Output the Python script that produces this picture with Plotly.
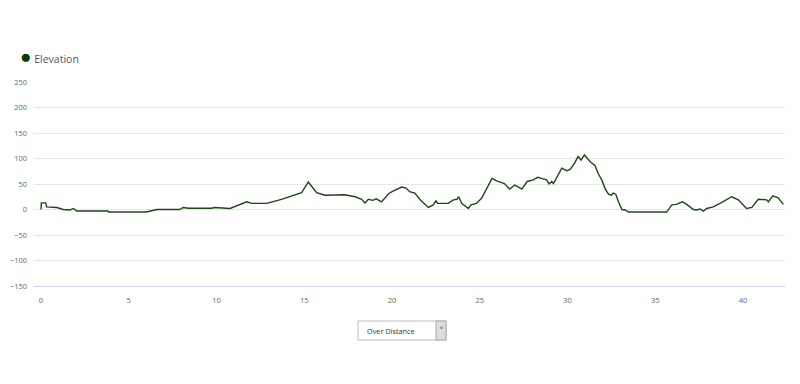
import plotly.graph_objects as go

# Distance along the course (km) and elevation (m)
distance_km = [0, 0.02, 0.27, 0.32, 0.9, 1.27, 1.65, 1.85, 2.03, 3.8, 3.85, 6.0, 6.6, 7.9, 8.1, 8.4,
               9.7, 9.9, 10.77, 11.72, 12.0, 12.86, 13.7, 14.47, 14.85, 15.23, 15.7, 16.18, 17.2,
               17.3, 17.9, 18.27, 18.46, 18.65, 18.9, 19.1, 19.4, 19.8, 20.0, 20.27, 20.55, 20.8,
               21.0, 21.3, 21.6, 22.07, 22.35, 22.5, 22.6, 23.2, 23.5, 23.7, 23.8, 23.97, 24.35,
               24.5, 24.8, 25.1, 25.5, 25.7, 25.96, 26.4, 26.7, 27.0, 27.4, 27.7, 28.05, 28.3, 28.5,
               28.8, 28.95, 29.1, 29.2, 29.67, 29.95, 30.14, 30.4, 30.6, 30.77, 30.96, 31.28, 31.57,
               31.75, 31.95, 32.14, 32.33, 32.5, 32.6, 32.75, 32.9, 33.1, 33.28, 33.47, 35.65, 35.94,
               36.2, 36.54, 36.79, 37.17, 37.36, 37.55, 37.74, 37.93, 38.3, 38.79, 39.35, 39.73,
               40.2, 40.5, 40.87, 41.35, 41.44, 41.7, 42.0, 42.3]
elevation_m = [0, 13, 13, 5, 4, 0, -1, 2, -3, -3, -5, -5, 0, 0, 4, 2.5,
               2.5, 4, 2, 15, 12, 12, 20, 28, 33, 54, 33, 28, 28,
               29, 25, 20, 13, 20, 18, 21, 15, 31, 35, 39, 44, 42,
               35, 32, 19, 4, 9, 17, 12, 12, 19, 20, 25, 12, 2,
               9, 12, 22, 48, 61, 56, 51, 40, 48, 40, 55, 58, 63, 61,
               58, 50, 55, 51, 81, 76, 78, 91, 104, 97, 107, 94, 86,
               70, 58, 41, 30, 28, 32, 30, 15, 0, -1, -5, -5, 9,
               10, 15, 10, 0, -1, 1, -3, 2, 5, 14, 25, 19,
               2, 4, 20, 19, 15, 27, 23, 10]
series_name = "Elevation"
x_ticks = [0, 5, 10, 15, 20, 25, 30, 35, 40]
y_ticks = [-150, -100, -50, 0, 50, 100, 150, 200, 250]
selector_label = "Over Distance"

LINE_COLOR = "#1d4518"
MARKER_COLOR = "#0b3a0b"
FONT = "Open Sans"

W, H = 800, 384
OFF = 8  # page body margin
# plot area in screen pixels: x 34..785, y 82..286
ML, MT = 34 - OFF, 82 - OFF
MR, MB = W - (785 - OFF), H - (286 - OFF)
PW, PH = W - ML - MR, H - MT - MB


def px(x):
    return (x - OFF - ML) / PW


def py(y):
    return (MT + PH - (y - OFF)) / PH


fig = go.Figure()
fig.add_trace(go.Scatter(
    x=distance_km, y=elevation_m, mode="lines", name=series_name,
    line=dict(color=LINE_COLOR, width=1.4), showlegend=False,
))

fig.update_layout(
    width=W, height=H,
    margin=dict(l=ML, r=MR, t=MT, b=MB, autoexpand=False),
    paper_bgcolor="white", plot_bgcolor="white",
    font=dict(family=FONT, color="#666666", size=8),
    showlegend=False,
    xaxis=dict(range=[-0.4, 42.39], tickvals=x_ticks, showgrid=False, zeroline=False,
               showline=True, linecolor="#ccd6eb", linewidth=1, ticks="", automargin=False,
               ticklabelstandoff=7, tickfont=dict(size=7.6, color="#666666"), fixedrange=True),
    yaxis=dict(range=[-150, 250], tickvals=y_ticks, showgrid=True, gridcolor="#e6e6e6",
               gridwidth=1, zeroline=False, showline=False, ticks="", automargin=False,
               ticklabelstandoff=6, tickfont=dict(size=7.4, color="#666666"), fixedrange=True),
    shapes=[
        dict(type="rect", xref="paper", yref="paper", x0=px(358), x1=px(446), y0=py(340), y1=py(321),
             line=dict(color="#bbbbbb", width=1), fillcolor="white", layer="above"),
        dict(type="rect", xref="paper", yref="paper", x0=px(436), x1=px(446), y0=py(340), y1=py(321),
             line=dict(color="#aaaaaa", width=1), fillcolor="#dddddd", layer="above"),
    ],
    annotations=[
        # legend
        dict(text=f"<span style='color:{MARKER_COLOR};font-size:19px'>●</span> {series_name}",
             xref="paper", yref="paper", x=px(18), y=py(56),
             xanchor="left", yanchor="middle", showarrow=False,
             font=dict(family=FONT, size=10.5, color="#555555")),
        # selector
        dict(text=selector_label, xref="paper", yref="paper", x=px(365), y=py(330.5),
             xanchor="left", yanchor="middle", showarrow=False,
             font=dict(family=FONT, size=7.3, color="#333333")),
        dict(text="˅", xref="paper", yref="paper", x=px(441), y=py(331),
             xanchor="center", yanchor="middle", showarrow=False,
             font=dict(family="DejaVu Sans", size=10, color="#555555")),
    ],
)

fig.write_html("out.html")
